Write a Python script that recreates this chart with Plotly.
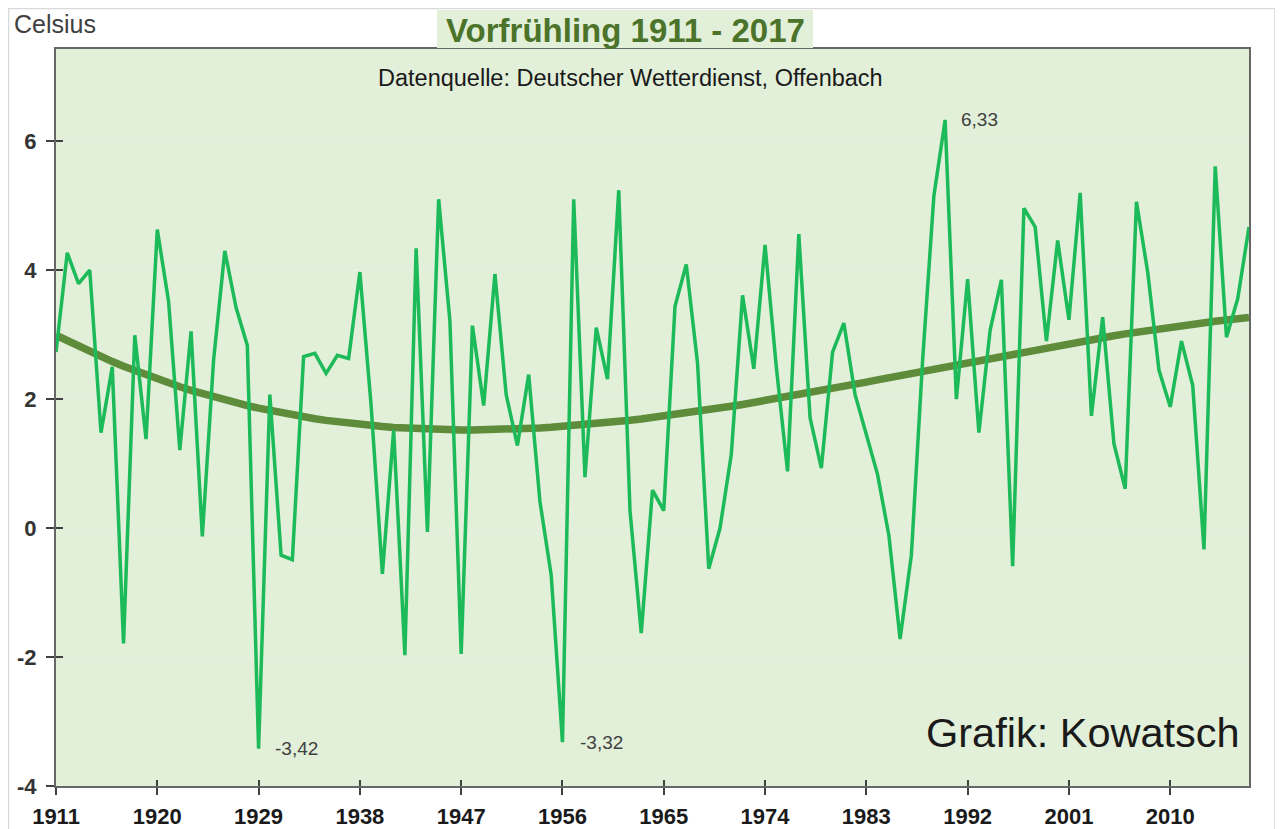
import numpy as np
import plotly.graph_objects as go

years = list(range(1911, 2018))
temps = [
    2.73, 4.27, 3.79, 4.00, 1.48, 2.50, -1.79, 2.99, 1.38, 4.63,   # 1911-1920
    3.52, 1.21, 3.05, -0.13, 2.60, 4.30, 3.42, 2.83, -3.42, 2.07,  # 1921-1930
    -0.42, -0.49, 2.66, 2.71, 2.40, 2.68, 2.63, 3.97, 1.90, -0.71, # 1931-1940
    1.52, -1.97, 4.34, -0.06, 5.10, 3.21, -1.95, 3.14, 1.90, 3.94, # 1941-1950
    2.07, 1.28, 2.38, 0.41, -0.73, -3.32, 5.10, 0.79, 3.11, 2.31,  # 1951-1960
    5.24, 0.27, -1.63, 0.59, 0.27, 3.44, 4.09, 2.56, -0.63, 0.00,  # 1961-1970
    1.14, 3.61, 2.47, 4.39, 2.50, 0.88, 4.56, 1.71, 0.93, 2.73,    # 1971-1980
    3.18, 2.07, 1.45, 0.83, -0.11, -1.72, -0.42, 2.60, 5.15, 6.33, # 1981-1990
    2.00, 3.86, 1.48, 3.07, 3.85, -0.59, 4.96, 4.67, 2.90, 4.46,   # 1991-2000
    3.23, 5.20, 1.74, 3.27, 1.31, 0.61, 5.06, 3.97, 2.45, 1.88,    # 2001-2010
    2.90, 2.21, -0.33, 5.61, 2.96, 3.56, 4.67,                     # 2011-2017
]
x_ticks = [1911, 1920, 1929, 1938, 1947, 1956, 1965, 1974, 1983, 1992, 2001, 2010]
y_ticks = [-4, -2, 0, 2, 4, 6]
y_ticktext = ["-4", "-2", "0", "2", "4", "6"]
labels = [(1990, "6,33", 14), (1929, "-3,42", 14), (1956, "-3,32", 16)]

FONT = "Liberation Sans, Arial, sans-serif"

# figure geometry (page has an 8px body margin)
W, H = 1275, 821
L, R, T, B = 48, 34, 41, 43
PW, PH = W - L - R, H - T - B


def px(xp):
    return (xp - L) / PW


def py(yp):
    return (H - B - yp) / PH


xa = np.array(years, dtype=float)
ya = np.array(temps, dtype=float)
xc = xa - xa.mean()
coef = np.polyfit(xc, ya, 3)
trend = np.polyval(coef, xc)

fig = go.Figure()
fig.add_trace(go.Scatter(x=years, y=trend, mode="lines",
                         line=dict(color="#5e8c3a", width=7.5), hoverinfo="skip"))
fig.add_trace(go.Scatter(x=years, y=temps, mode="lines",
                         line=dict(color="#1cba58", width=3.5)))
# invisible trace to carry the inside-tick overlay axes
fig.add_trace(go.Scatter(x=[years[0]], y=[temps[0]], xaxis="x2", yaxis="y2",
                         mode="markers", marker=dict(opacity=0), hoverinfo="skip"))

for yr, txt, xs in labels:
    v = temps[years.index(yr)]
    fig.add_annotation(x=yr, y=v, text=txt, showarrow=False, xanchor="left",
                       yanchor="middle", xshift=xs, yshift=0,
                       font=dict(family=FONT, size=19, color="#404040"))

# title box (covers plot border) + title text
fig.add_shape(type="rect", xref="paper", yref="paper",
              x0=px(429), x1=px(805), y0=py(40), y1=py(2),
              fillcolor="#e2efd9", line=dict(width=0), layer="above")
fig.add_annotation(xref="paper", yref="paper", x=px(617), y=1.0, yanchor="middle", yshift=19,
                   text="<b>Vorfrühling 1911 - 2017</b>", showarrow=False,
                   font=dict(family=FONT, size=33, color="#4b7329"))
fig.add_annotation(xref="paper", yref="paper", x=px(622), y=1.0, yanchor="middle", yshift=-29,
                   text="Datenquelle: Deutscher Wetterdienst, Offenbach", showarrow=False,
                   font=dict(family=FONT, size=23.5, color="#1a1a1a"))
fig.add_annotation(xref="paper", yref="paper", x=1.0, y=0.0, xanchor="right", yanchor="middle",
                   xshift=-7, yshift=54,
                   text="Grafik: Kowatsch", showarrow=False,
                   font=dict(family=FONT, size=41.5, color="#1a1a1a"))
fig.add_annotation(xref="paper", yref="paper", x=0.0, y=1.0, xanchor="left", yanchor="middle",
                   xshift=-44, yshift=25,
                   text="Celsius", showarrow=False,
                   font=dict(family=FONT, size=25, color="#404040"))

fig.add_shape(type="rect", xref="paper", yref="paper",
              x0=px(0.5), x1=px(1267), y0=py(840), y1=py(0.5),
              line=dict(color="#d9d9d9", width=1.5), layer="below")

axis_common = dict(tickcolor="#404040", tickwidth=1.5, automargin=False)
fig.update_layout(
    width=W, height=H,
    margin=dict(l=L, r=R, t=T, b=B, autoexpand=False),
    paper_bgcolor="white", plot_bgcolor="#e2efd9",
    showlegend=False,
    xaxis=dict(range=[1911, 2017], tickvals=x_ticks, ticks="outside", ticklen=7,
               ticklabelstandoff=3, showgrid=False, zeroline=False,
               showline=True, linecolor="#666666", linewidth=2, mirror=True,
               tickfont=dict(family=FONT, size=22, color="#1a1a1a", weight="bold"),
               **axis_common),
    yaxis=dict(range=[-4, 7.43], tickvals=y_ticks, ticktext=y_ticktext, ticks="outside",
               ticklen=8, ticklabelstandoff=5,
               showgrid=True, gridcolor="#eaefe6", gridwidth=1,
               zeroline=False, showline=True, linecolor="#666666", linewidth=2, mirror=True,
               tickfont=dict(family=FONT, size=22, color="#333333", weight="bold"),
               **axis_common),
    xaxis2=dict(range=[1911, 2017], tickvals=x_ticks, ticks="inside", ticklen=6,
                showticklabels=False, showgrid=False, zeroline=False, showline=False,
                overlaying="x", anchor="y2", side="bottom", **axis_common),
    yaxis2=dict(range=[-4, 7.43], tickvals=y_ticks, ticks="inside", ticklen=7,
                showticklabels=False, showgrid=False, zeroline=False, showline=False,
                overlaying="y", anchor="x2", side="left", **axis_common),
)

fig.write_html("out.html")
